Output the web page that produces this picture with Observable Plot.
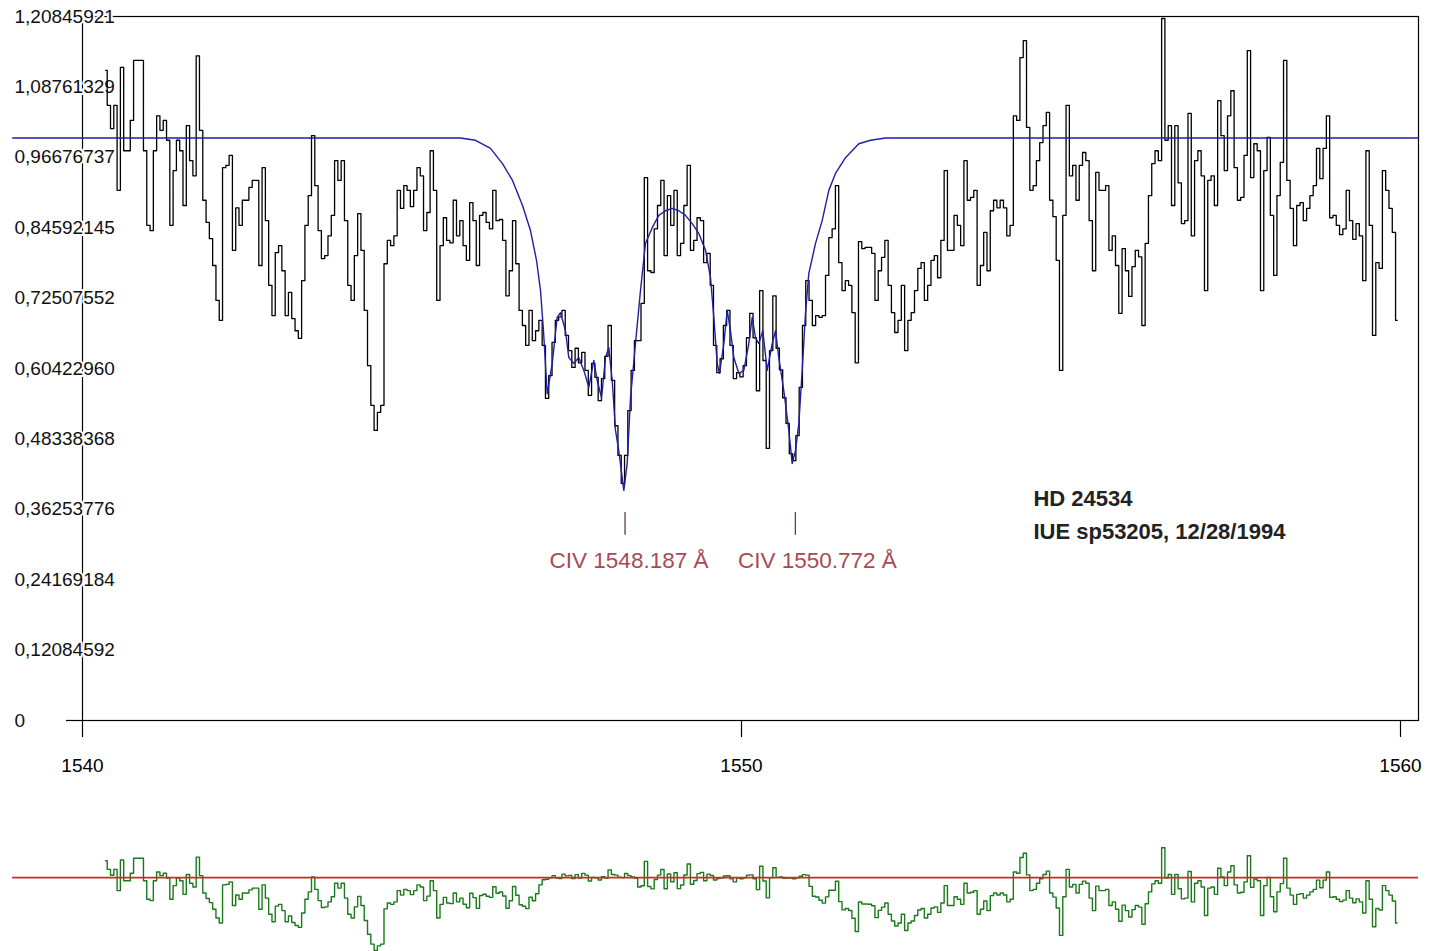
<!DOCTYPE html>
<html>
<head>
<meta charset="utf-8">
<script src="https://cdn.jsdelivr.net/npm/d3@7"></script>
<script src="https://cdn.jsdelivr.net/npm/@observablehq/plot@0.6"></script>
<style>
  html, body { margin: 0; padding: 0; background: white; }
  #chart svg { display: block; }
</style>
</head>
<body>
<div id="chart"></div>
<script>
// ---- data ----
const yTickValues = [0, 0.12084592, 0.24169184, 0.36253776, 0.48338368, 0.6042296, 0.72507552, 0.84592145, 0.96676737, 1.08761329, 1.20845921];
const yTickLabels = ["0", "0,12084592", "0,24169184", "0,36253776", "0,48338368", "0,60422960", "0,72507552", "0,84592145", "0,96676737", "1,08761329", "1,20845921"];
const xTickValues = [1540, 1550, 1560];
const xTickLabels = ["1540", "1550", "1560"];

// observed spectrum: uniform wavelength grid (Å) and normalised flux
const fluxStart = 1540.35;
const fluxStep = 0.05;
const flux = [
  1.116, 1.056, 1.016, 1.056, 0.910, 1.121, 0.978, 0.978, 1.030, 1.133,
  1.133, 1.133, 0.978, 0.850, 0.841, 0.978, 1.038, 1.013, 1.030, 0.996,
  0.850, 0.944, 0.996, 0.978, 0.884, 1.021, 0.961, 0.935, 1.141, 1.013,
  0.893, 0.855, 0.827, 0.781, 0.721, 0.687, 0.949, 0.953, 0.970, 0.807,
  0.880, 0.850, 0.893, 0.893, 0.915, 0.927, 0.927, 0.781, 0.949, 0.858,
  0.747, 0.695, 0.803, 0.815, 0.772, 0.695, 0.735, 0.690, 0.669, 0.656,
  0.755, 0.850, 0.901, 1.004, 0.918, 0.841, 0.793, 0.798, 0.832, 0.867,
  0.961, 0.927, 0.961, 0.858, 0.747, 0.721, 0.798, 0.870, 0.807, 0.704,
  0.609, 0.541, 0.498, 0.529, 0.541, 0.784, 0.824, 0.815, 0.832, 0.910,
  0.879, 0.918, 0.910, 0.882, 0.910, 0.949, 0.935, 0.841, 0.872, 0.978,
  0.910, 0.721, 0.815, 0.863, 0.824, 0.820, 0.893, 0.832, 0.858, 0.815,
  0.790, 0.889, 0.858, 0.781, 0.867, 0.872, 0.855, 0.844, 0.910, 0.858,
  0.860, 0.824, 0.729, 0.772, 0.858, 0.784, 0.704, 0.678, 0.644, 0.704,
  0.652, 0.669, 0.687, 0.644, 0.553, 0.592, 0.649, 0.687, 0.693, 0.704,
  0.661, 0.635, 0.606, 0.639, 0.614, 0.632, 0.601, 0.558, 0.613, 0.589,
  0.549, 0.587, 0.625, 0.678, 0.584, 0.506, 0.455, 0.407, 0.455, 0.532,
  0.601, 0.652, 0.652, 0.716, 0.932, 0.772, 0.769, 0.844, 0.884, 0.927,
  0.798, 0.901, 0.850, 0.910, 0.798, 0.819, 0.884, 0.953, 0.807, 0.824,
  0.863, 0.858, 0.786, 0.802, 0.747, 0.644, 0.597, 0.621, 0.678, 0.704,
  0.644, 0.587, 0.597, 0.590, 0.609, 0.657, 0.699, 0.657, 0.566, 0.738,
  0.618, 0.467, 0.635, 0.729, 0.639, 0.602, 0.554, 0.510, 0.458, 0.446,
  0.489, 0.572, 0.678, 0.755, 0.721, 0.678, 0.695, 0.692, 0.695, 0.764,
  0.829, 0.844, 0.918, 0.786, 0.738, 0.755, 0.747, 0.700, 0.614, 0.822,
  0.810, 0.812, 0.812, 0.802, 0.721, 0.772, 0.795, 0.824, 0.747, 0.700,
  0.666, 0.687, 0.747, 0.635, 0.687, 0.700, 0.738, 0.776, 0.786, 0.721,
  0.747, 0.790, 0.798, 0.760, 0.824, 0.944, 0.807, 0.807, 0.867, 0.850,
  0.815, 0.961, 0.893, 0.898, 0.910, 0.747, 0.781, 0.838, 0.772, 0.875,
  0.893, 0.880, 0.893, 0.880, 0.832, 0.850, 1.038, 1.030, 1.138, 1.167,
  1.018, 0.910, 0.918, 0.961, 0.992, 1.021, 1.044, 0.893, 0.865, 0.790,
  0.601, 0.867, 1.056, 0.935, 0.953, 0.893, 0.953, 0.975, 0.961, 0.858,
  0.772, 0.941, 0.910, 0.910, 0.918, 0.807, 0.832, 0.781, 0.699, 0.810,
  0.772, 0.728, 0.779, 0.807, 0.796, 0.678, 0.819, 0.901, 0.956, 0.978,
  0.961, 1.205, 0.996, 1.021, 0.884, 1.021, 0.923, 0.853, 0.858, 1.042,
  0.832, 0.961, 0.978, 0.935, 0.738, 0.927, 0.935, 0.884, 1.064, 1.004,
  0.944, 1.038, 1.081, 0.949, 0.893, 0.898, 0.970, 1.150, 0.932, 0.990,
  0.978, 0.738, 0.944, 1.001, 0.867, 0.764, 0.901, 0.958, 1.133, 0.927,
  0.879, 0.815, 0.884, 0.889, 0.858, 0.879, 0.901, 0.918, 0.982, 0.930,
  0.982, 1.038, 0.863, 0.867, 0.850, 0.834, 0.844, 0.910, 0.858, 0.826,
  0.853, 0.832, 0.755, 0.978, 0.850, 0.661, 0.786, 0.776, 0.944, 0.910,
  0.879, 0.838, 0.687
];

// fitted model profile
const modelWavelength = [1538.94, 1545.736, 1545.964, 1546.191, 1546.373, 1546.525, 1546.677, 1546.798, 1546.889, 1546.950, 1546.995, 1547.052, 1547.128, 1547.203, 1547.253, 1547.329, 1547.379, 1547.455, 1547.531, 1547.607, 1547.683, 1547.759, 1547.810, 1547.876, 1547.936, 1547.986, 1548.038, 1548.088, 1548.138, 1548.214, 1548.265, 1548.316, 1548.391, 1548.467, 1548.543, 1548.645, 1548.745, 1548.847, 1548.948, 1549.048, 1549.150, 1549.252, 1549.352, 1549.454, 1549.530, 1549.580, 1549.631, 1549.666, 1549.732, 1549.783, 1549.833, 1549.883, 1549.959, 1550.035, 1550.111, 1550.163, 1550.212, 1550.263, 1550.323, 1550.390, 1550.466, 1550.516, 1550.566, 1550.642, 1550.718, 1550.769, 1550.819, 1550.870, 1550.921, 1550.971, 1551.021, 1551.123, 1551.224, 1551.325, 1551.426, 1551.578, 1551.780, 1551.958, 1552.185, 1552.337, 1560.273];
const modelFlux = [1.000, 1.000, 0.996, 0.982, 0.956, 0.927, 0.884, 0.841, 0.790, 0.738, 0.669, 0.561, 0.613, 0.692, 0.700, 0.669, 0.623, 0.613, 0.623, 0.601, 0.572, 0.618, 0.584, 0.554, 0.623, 0.640, 0.584, 0.498, 0.463, 0.395, 0.441, 0.554, 0.647, 0.738, 0.819, 0.846, 0.867, 0.875, 0.879, 0.875, 0.867, 0.853, 0.836, 0.807, 0.760, 0.692, 0.613, 0.596, 0.647, 0.704, 0.669, 0.623, 0.596, 0.601, 0.647, 0.692, 0.657, 0.647, 0.669, 0.601, 0.647, 0.669, 0.623, 0.566, 0.498, 0.441, 0.463, 0.510, 0.601, 0.699, 0.767, 0.819, 0.858, 0.910, 0.939, 0.966, 0.990, 0.996, 1.000, 1.000, 1.000];

// line identifications
const lineWavelengths = [1548.187, 1550.772];
const lineLabels = ["CIV 1548.187 Å", "CIV 1550.772 Å"];
const infoText = "HD 24534\nIUE sp53205, 12/28/1994";

// ---- derived tables ----
const spectrum = flux.map((f, i) => ({wavelength: fluxStart + i * fluxStep, flux: f}));
const model = modelWavelength.map((w, i) => ({wavelength: w, flux: modelFlux[i]}));
const bis = d3.bisector(d => d).right;
function modelAt(w) {
  let j = Math.max(1, Math.min(modelWavelength.length - 1, bis(modelWavelength, w)));
  const w0 = modelWavelength[j - 1], w1 = modelWavelength[j];
  const t = (w - w0) / (w1 - w0);
  return modelFlux[j - 1] + t * (modelFlux[j] - modelFlux[j - 1]);
}
const residual = spectrum.map(d => ({wavelength: d.wavelength, residual: d.flux - modelAt(d.wavelength)}));
const yTicks = yTickValues.map((v, i) => ({value: v, label: yTickLabels[i]}));
const lines = lineWavelengths.map((w, i) => ({wavelength: w, label: lineLabels[i]}));

const FONT = "Arial, 'Liberation Sans', sans-serif";
const xDomain = [1540, 1560.273];

const main = Plot.plot({
  width: 1429,
  height: 790,
  marginTop: 16,
  marginBottom: 70,
  marginLeft: 82,
  marginRight: 11,
  style: {fontFamily: FONT, fontSize: "19px", color: "black", background: "white"},
  x: {domain: xDomain, label: null},
  y: {domain: [0, 1.20845921], label: null, axis: null},
  marks: [
    Plot.frame({stroke: "black", strokeWidth: 1.2}),
    Plot.axisX({ticks: xTickValues, tickFormat: d => xTickLabels[xTickValues.indexOf(d)], tickSize: 17, tickPadding: 21, fontSize: 19, label: null, stroke: "black", strokeWidth: 1.2}),
    Plot.axisY({ticks: [0], tickSize: 16, tickFormat: () => "", label: null, strokeWidth: 1.2}),
    Plot.text(yTicks, {y: "value", text: "label", frameAnchor: "left", dx: -68, textAnchor: "start", fontSize: 19, fill: "#111", stroke: "white", strokeWidth: 4, paintOrder: "stroke"}),
    Plot.line(spectrum, {x: "wavelength", y: "flux", curve: "step", stroke: "black", strokeWidth: 1.3}),
    Plot.line(model, {x: "wavelength", y: "flux", stroke: "#1f1fa3", strokeWidth: 1.4}),
    Plot.ruleX(lines, {x: "wavelength", y1: 0.357, y2: 0.318, stroke: "#5a4046", strokeWidth: 1.3, dx: 3}),
    Plot.text(lines.slice(0, 1), {x: "wavelength", y: 0.2746, text: "label", fill: "#a84a55", fontSize: 22.5, dx: 7}),
    Plot.text(lines.slice(1), {x: "wavelength", y: 0.2746, text: "label", fill: "#a84a55", fontSize: 22.5, dx: 25}),
    Plot.text([infoText], {x: 1554.43, y: 0.358, text: d => d, textAnchor: "start", fontWeight: "bold", fontSize: 22, lineHeight: 1.5, fill: "#222"})
  ]
});

const resid = Plot.plot({
  width: 1429,
  height: 161,
  marginTop: 0,
  marginBottom: 0,
  marginLeft: 82,
  marginRight: 11,
  style: {fontFamily: FONT, background: "white"},
  x: {domain: xDomain, axis: null},
  y: {domain: [-0.51, 0.6], axis: null},
  marks: [
    Plot.line(residual, {x: "wavelength", y: "residual", curve: "step", stroke: "#1a7a1a", strokeWidth: 1.4}),
    Plot.ruleY([0], {x1: modelWavelength[0], x2: modelWavelength[modelWavelength.length - 1], stroke: "#cc2a2a", strokeWidth: 1.8})
  ]
});

const chart = document.getElementById("chart");
chart.appendChild(main);
chart.appendChild(resid);
</script>
</body>
</html>
